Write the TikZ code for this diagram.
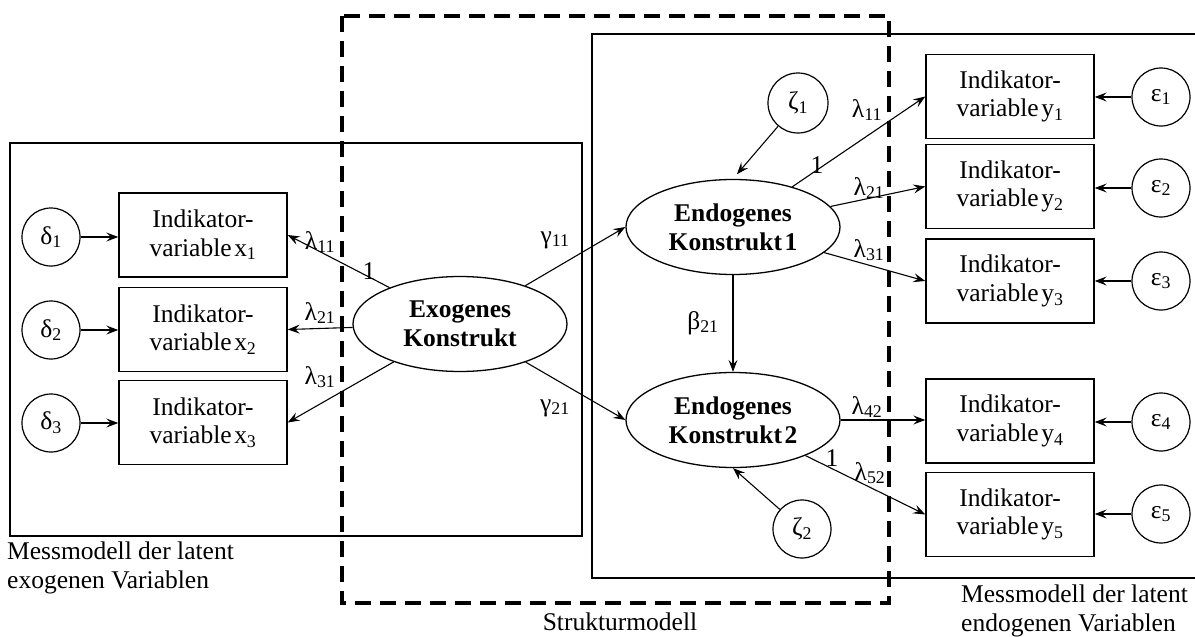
\documentclass[tikz,border=0pt]{standalone}
\usepackage{fontspec}
\setmainfont{Liberation Serif}
\usetikzlibrary{arrows.meta,shapes.geometric}
\newcommand{\idx}[1]{\textsubscript{#1}}
\newcommand{\ind}[2]{Indikator-\\variable\hspace{0.1em}#1\idx{#2}}

\begin{document}
\begin{tikzpicture}[x=1pt,y=-1pt,
  font=\fontsize{25.5}{28.5}\selectfont,
  frame/.style={draw, line width=1.2pt},
  indbox/.style={draw, line width=1.4pt, minimum width=168pt, minimum height=84pt,
                 inner sep=0pt, align=center},
  errc/.style={draw, circle, line width=1.2pt, minimum size=58pt, inner sep=0pt},
  latent/.style={draw, ellipse, line width=1.3pt, minimum width=214pt, minimum height=95pt,
                 inner sep=0pt, align=center, font=\fontsize{25.5}{29}\selectfont\bfseries},
  link/.style={draw, line width=1.1pt, -{Stealth[length=12pt,width=9pt,inset=4.5pt]}},
  coef/.style={inner sep=0pt},
  struct/.style={draw, line width=4pt, dash pattern=on 16pt off 9pt}
]
\useasboundingbox (0,0) rectangle (1195,637);

% measurement model frames
\draw[frame] (10,143) rectangle (582,536);
\draw[frame] (1196,34) -- (592,34) -- (592,578) -- (1196,578);

% exogenous side
\node[latent] (exo) at (460,324) {Exogenes\\Konstrukt};
\node[indbox] (x1) at (203,235) {\ind{x}{1}};
\node[indbox] (x2) at (203,329.5) {\ind{x}{2}};
\node[indbox] (x3) at (203,422.5) {\ind{x}{3}};
\node[errc] (d1) at (51,237) {δ\idx{1}};
\node[errc] (d2) at (51,330) {δ\idx{2}};
\node[errc] (d3) at (51,423) {δ\idx{3}};

% endogenous side
\node[latent] (en1) at (733,227) {Endogenes\\Konstrukt\hspace{0.1em}1};
\node[latent] (en2) at (733,420) {Endogenes\\Konstrukt\hspace{0.1em}2};
\node[errc, minimum size=60pt] (z1) at (798,103) {ζ\idx{1}};
\node[errc] (z2) at (802,529) {ζ\idx{2}};
\node[indbox] (y1) at (1010,96.5) {\ind{y}{1}};
\node[indbox] (y2) at (1010,186.5) {\ind{y}{2}};
\node[indbox] (y3) at (1010,281) {\ind{y}{3}};
\node[indbox] (y4) at (1010,421) {\ind{y}{4}};
\node[indbox] (y5) at (1010,514.5) {\ind{y}{5}};
\node[errc] (e1) at (1161,97) {ε\idx{1}};
\node[errc] (e2) at (1161,188) {ε\idx{2}};
\node[errc] (e3) at (1161,281) {ε\idx{3}};
\node[errc] (e4) at (1161,422) {ε\idx{4}};
\node[errc] (e5) at (1161,514) {ε\idx{5}};

% error terms
\foreach \d/\x in {d1/x1,d2/x2,d3/x3} \draw[link] (\d) -- (\x.west |- \d);
\foreach \e/\y in {e1/y1,e2/y2,e3/y3,e4/y4,e5/y5} \draw[link] (\e) -- (\y.east |- \e);
\draw[link, shorten >=6pt] (z1) -- (en1.north);
\draw[link] (z2) -- (en2.south);

% loadings and structural paths
\draw[link] (exo) -- (x1.east);
\draw[link] (exo) -- (x2.east);
\draw[link] (exo) -- (x3.east);
\draw[link] (exo) -- (en1.west);
\draw[link] (exo) -- (en2.west);
\draw[link] (en1) -- (en2);
\draw[link] (en1) -- (y1.west);
\draw[link] (en1) -- (y2.west);
\draw[link] (en1) -- (y3.west);
\draw[link] (en2.east) -- (y4.west |- en2.east);
\draw[link] (en2) -- (y5.west);

% coefficients
\node[coef] (lx11) at (320,242) {λ\idx{11}};
\node[coef] (lx21) at (320,313) {λ\idx{21}};
\node[coef] (lx31) at (320,377) {λ\idx{31}};
\node[coef] (fx1) at (369,271) {1};
\node[coef] (g11) at (555,240) {γ\idx{11}};
\node[coef] (g21) at (555,408) {γ\idx{21}};
\node[coef] (b21) at (703,323) {β\idx{21}};
\node[coef] (ly11) at (867,110) {λ\idx{11}};
\node[coef] (fy1) at (817,165) {1};
\node[coef] (ly21) at (869,188) {λ\idx{21}};
\node[coef] (ly31) at (869,250) {λ\idx{31}};
\node[coef] (ly42) at (867,407) {λ\idx{42}};
\node[coef] (fy2) at (832,458) {1};
\node[coef] (ly52) at (870,473) {λ\idx{52}};

% structural model
\draw[struct] (342,16) rectangle (889,603);

% captions
\node[anchor=west, align=left, inner sep=0pt] (capx) at (7,568)
  {Messmodell der latent\\exogenen Variablen};
\node[inner sep=0pt] (caps) at (620,622) {Strukturmodell};
\node[anchor=west, align=left, inner sep=0pt] (capy) at (961,611)
  {Messmodell der latent\\endogenen Variablen};
\end{tikzpicture}
\end{document}
